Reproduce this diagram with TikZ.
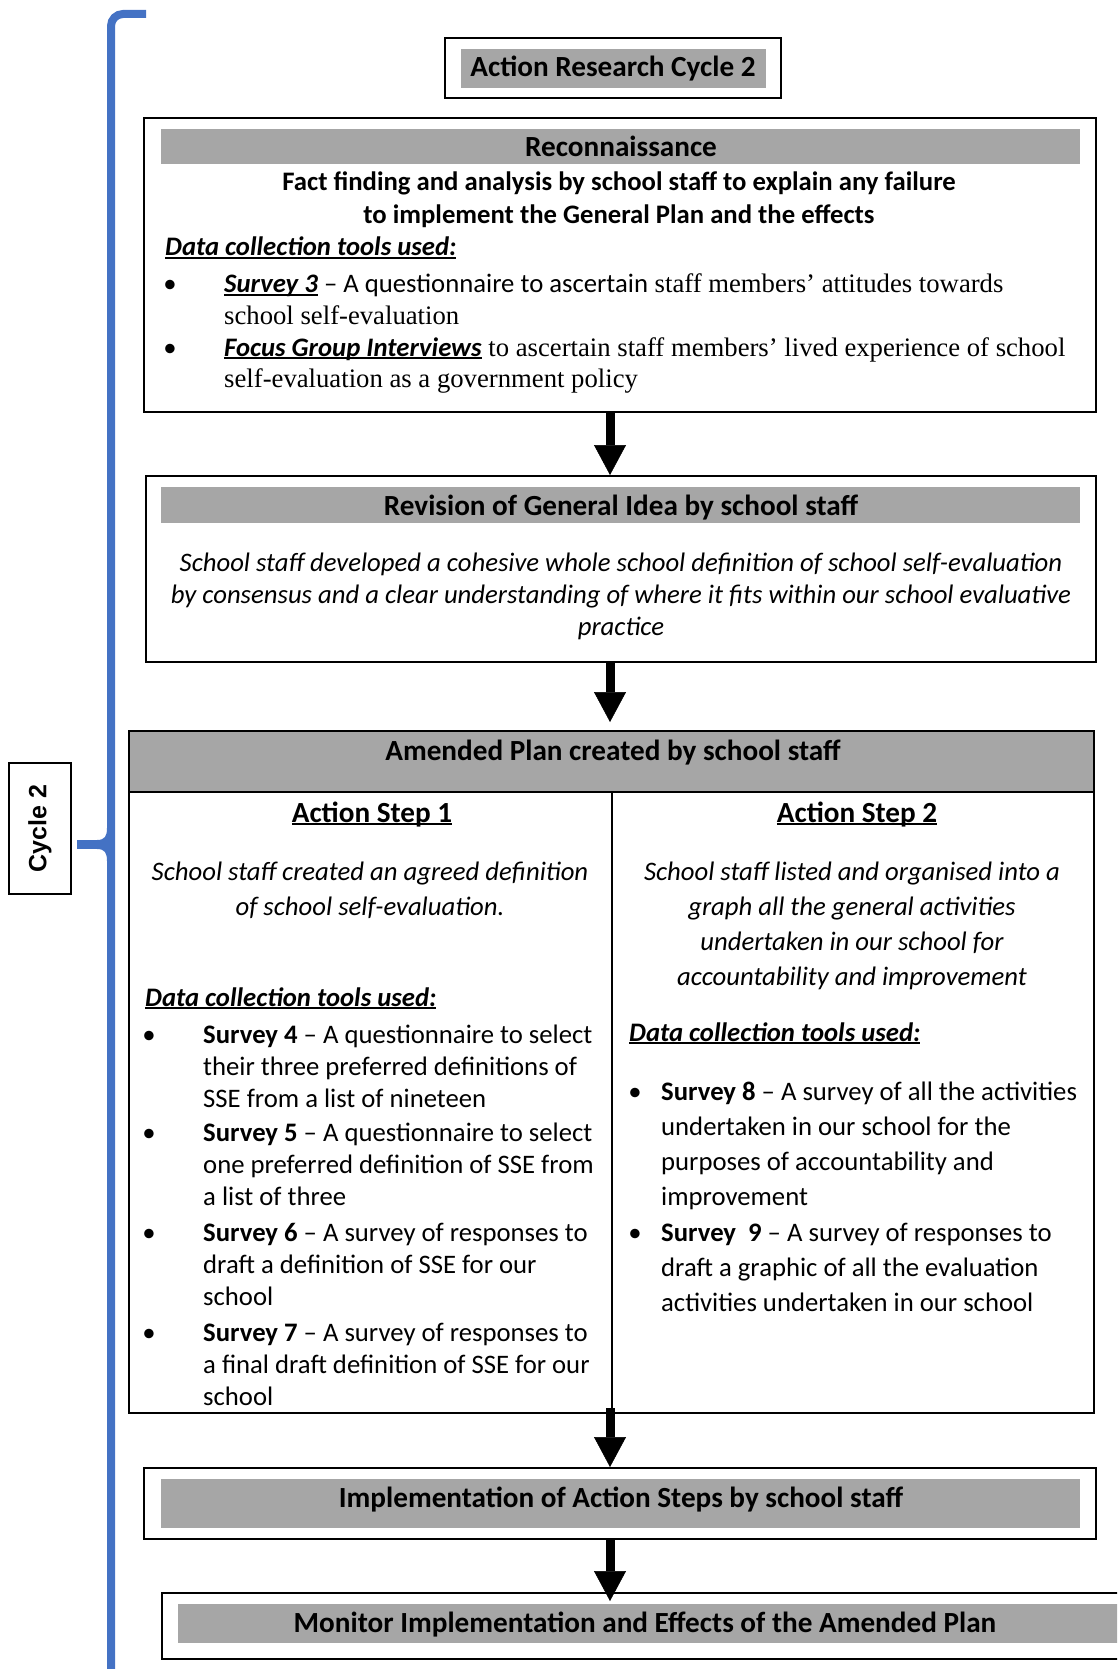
\documentclass[tikz,border=0pt]{standalone}
\usepackage{fontspec}
\setmainfont{Carlito}
\newfontfamily\serifface{Liberation Serif}
\newfontfamily\labelface{Liberation Sans}
\usetikzlibrary{arrows.meta}
\definecolor{bargray}{HTML}{A6A6A6}
\definecolor{braceblue}{HTML}{4472C4}
\newcommand\bodyfont{\fontsize{26.7}{32.4}\selectfont}
\newcommand\headfont{\fontsize{29.2}{35}\selectfont}
% underline at a fixed depth, crossing descenders like a word processor does
\newcommand\ulntext[1]{\leavevmode\setbox0=\hbox{#1}\rlap{\rule[-0.11em]{\wd0}{0.07em}}\box0\relax}
\newcommand\datahead{\ulntext{\textbf{\textit{Data collection tools used:}}}}
% keep the font's own word spacing inside aligned nodes
\newcommand\fontspaces{\spaceskip=0pt\relax\xspaceskip=0pt\relax}

\begin{document}
\begin{tikzpicture}[x=1pt,y=-1pt,
  boxframe/.style={draw=black, line width=2pt, inner sep=0pt, fill=white},
  grayband/.style={fill=bargray, inner sep=0pt},
  titletext/.style={inner sep=0pt, font=\headfont\bfseries, anchor=base},
  txt/.style={inner sep=0pt, font=\bodyfont, execute at begin node=\fontspaces},
  bul/.style={inner sep=0pt, font=\bodyfont, anchor=base},
  flowarrow/.style={line width=9pt, -{Triangle[width=32pt,length=30pt,line width=0.5pt]}},
]
\useasboundingbox (0,0) rectangle (1117,1669);
\clip (0,0) rectangle (1117,1669);

\coordinate (ax) at (610,0);
\coordinate (divx) at (612,0);

% ---- cycle label and brace ----
\node[draw=black, line width=1.5pt, inner sep=0pt, rotate=90,
      minimum width=131pt, minimum height=62pt,
      font=\labelface\bfseries\fontsize{25}{30}\selectfont] (cyclelabel) at (40,828.5) {Cycle 2};
\draw[braceblue, line width=8pt, rounded corners=12pt] (146,14) -- (111,14) -- (111,1690);
\draw[braceblue, line width=9pt] (77,844.5) -- (104,844.5);
\fill[braceblue] (97,840) .. controls (105,840) and (107,836) .. (107,828) -- (112,828)
  -- (112,861) -- (107,861) .. controls (107,853) and (105,849) .. (97,849) -- cycle;

% ---- heading ----
\node[boxframe, minimum width=336pt, minimum height=60pt] (headbox) at (613,68) {};
\node[grayband, minimum width=305pt, minimum height=39pt] (headband) at (613.5,68.5) {};
\node[titletext] (headtitle) at (613,77) {Action Research Cycle 2};

% ---- reconnaissance ----
\node[boxframe, minimum width=952pt, minimum height=294pt] (recon) at (620,265) {};
\node[grayband, minimum width=919pt, minimum height=35pt] (reconband) at (620.5,146.5) {};
\node[titletext] (recontitle) at (621,157) {Reconnaissance};
\node[txt, anchor=base, text width=920pt, align=flush center, font=\bodyfont\bfseries] (reconsub) at (619,191)
  {Fact finding and analysis by school staff to explain any failure\\to implement the General Plan and the effects};
\node[txt, anchor=base west] (recondata) at (165,256) {\datahead};
\node[bul] (reconb1) at (170,293) {\textbullet};
\node[txt, anchor=base west, text width=870pt, align=flush left, font=\fontsize{26.7}{31.3}\selectfont] (reconi1) at (224,293)
  {\ulntext{\textbf{\textit{Survey 3}}} \textendash{} A questionnaire to ascertain{\serifface{} staff members’ attitudes towards}\\
   {\serifface school self-evaluation}};
\node[bul] (reconb2) at (170,356) {\textbullet};
\node[txt, anchor=base west, text width=870pt, align=flush left, font=\fontsize{26.7}{31.3}\selectfont] (reconi2) at (224,356)
  {\ulntext{\textbf{\textit{Focus Group Interviews}}}{\serifface{} to ascertain staff members’ lived experience of school}\\
   {\serifface self-evaluation as a government policy}};

% ---- revision of general idea ----
\node[boxframe, minimum width=950pt, minimum height=186pt] (revision) at (621,569) {};
\node[grayband, minimum width=919pt, minimum height=36pt] (revband) at (620.5,505) {};
\node[titletext] (revtitle) at (621,515) {Revision of General Idea by school staff};
\node[txt, anchor=base, text width=930pt, align=flush center, font=\bodyfont\itshape] (revtext) at (621,571)
  {School staff developed a cohesive whole school definition of school self-evaluation\\
   by consensus and a clear understanding of where it fits within our school evaluative\\
   practice};

% ---- amended plan ----
\node[boxframe, minimum width=965pt, minimum height=682pt] (amended) at (611.5,1072) {};
\node[boxframe, fill=bargray, minimum width=965pt, minimum height=61pt, anchor=north] (amendhead) at (amended.north) {};
\draw[line width=2pt] (amendhead.south -| divx) -- (amended.south -| divx);
\node[titletext] (amendtitle) at (613,760) {Amended Plan created by school staff};

% left column
\node[titletext] (step1) at (372,822) {\ulntext{Action Step 1}};
\node[txt, anchor=base, text width=460pt, align=flush center, font=\fontsize{26.7}{35}\selectfont\itshape] (step1text) at (370,880)
  {School staff created an agreed definition\\of school self-evaluation.};
\node[txt, anchor=base west] (step1data) at (145,1006) {\datahead};
\node[bul] (s4b) at (149,1043) {\textbullet};
\node[txt, anchor=base west, text width=405pt, align=flush left, font=\fontsize{26.7}{32.3}\selectfont] (s4) at (203,1043)
  {\textbf{Survey 4} \textendash{} A questionnaire to select\\their three preferred definitions of\\SSE from a list of nineteen};
\node[bul] (s5b) at (149,1141) {\textbullet};
\node[txt, anchor=base west, text width=405pt, align=flush left, font=\fontsize{26.7}{32.3}\selectfont] (s5) at (203,1141)
  {\textbf{Survey 5} \textendash{} A questionnaire to select\\one preferred definition of SSE from\\a list of three};
\node[bul] (s6b) at (149,1241) {\textbullet};
\node[txt, anchor=base west, text width=405pt, align=flush left, font=\fontsize{26.7}{32.3}\selectfont] (s6) at (203,1241)
  {\textbf{Survey 6} \textendash{} A survey of responses to\\draft a definition of SSE for our\\school};
\node[bul] (s7b) at (149,1341) {\textbullet};
\node[txt, anchor=base west, text width=405pt, align=flush left, font=\fontsize{26.7}{32.3}\selectfont] (s7) at (203,1341)
  {\textbf{Survey 7} \textendash{} A survey of responses to\\a final draft definition of SSE for our\\school};

% right column
\node[titletext] (step2) at (857,822) {\ulntext{Action Step 2}};
\node[txt, anchor=base, text width=460pt, align=flush center, font=\fontsize{26.7}{35}\selectfont\itshape] (step2text) at (852,880)
  {School staff listed and organised into a\\graph all the general activities\\undertaken in our school for\\accountability and improvement};
\node[txt, anchor=base west] (step2data) at (629,1041) {\datahead};
\node[bul] (s8b) at (635,1100) {\textbullet};
\node[txt, anchor=base west, text width=430pt, align=flush left, font=\fontsize{26.7}{35}\selectfont] (s8) at (661,1100)
  {\textbf{Survey 8} \textendash{} A survey of all the activities\\undertaken in our school for the\\purposes of accountability and\\improvement};
\node[bul] (s9b) at (635,1241) {\textbullet};
\node[txt, anchor=base west, text width=430pt, align=flush left, font=\fontsize{26.7}{35}\selectfont] (s9) at (661,1241)
  {\textbf{Survey\ \ 9} \textendash{} A survey of responses to\\draft a graphic of all the evaluation\\activities undertaken in our school};

% ---- implementation ----
\node[boxframe, minimum width=952pt, minimum height=71pt] (impl) at (620,1503.5) {};
\node[grayband, minimum width=919pt, minimum height=49pt] (implband) at (620.5,1503.5) {};
\node[titletext] (impltitle) at (621,1507) {Implementation of Action Steps by school staff};

% ---- monitoring ----
\node[boxframe, minimum width=978pt, minimum height=66pt] (monitor) at (651,1626) {};
\node[grayband, minimum width=952pt, minimum height=39pt] (monband) at (654,1623.5) {};
\node[titletext] (montitle) at (645,1632) {Monitor Implementation and Effects of the Amended Plan};

% ---- flow arrows ----
\draw[flowarrow] (recon.south -| ax) -- (revision.north -| ax);
\draw[flowarrow, shorten >=8pt] (revision.south -| ax) -- (amended.north -| ax);
\draw[flowarrow, shorten <=-6pt] (amended.south -| ax) -- (impl.north -| ax);
\draw[flowarrow, shorten >=-9pt] (impl.south -| ax) -- (monitor.north -| ax);
\end{tikzpicture}
\end{document}
